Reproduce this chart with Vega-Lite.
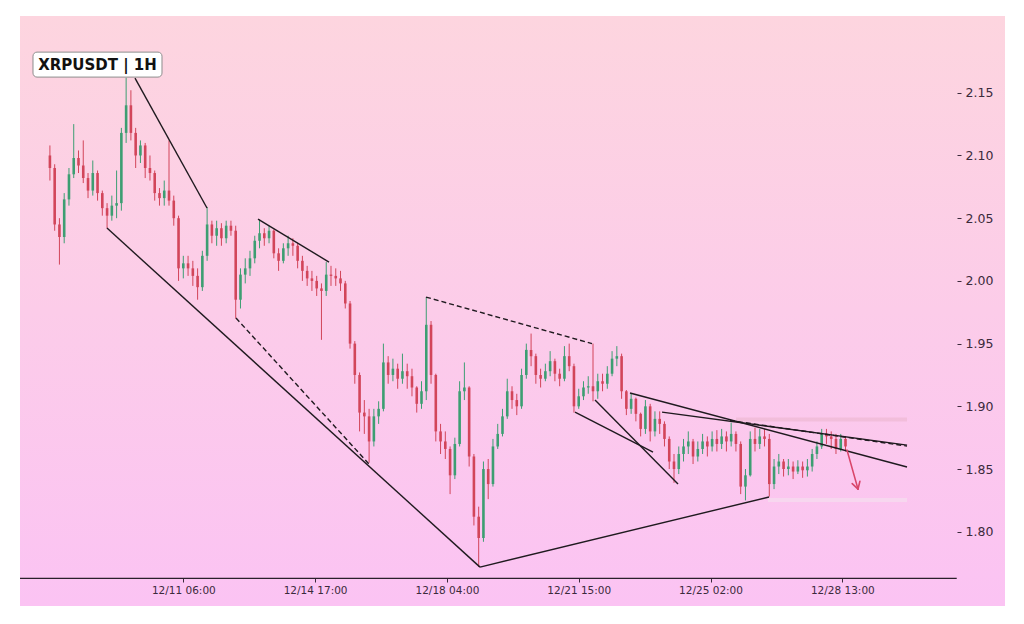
{
"$schema":"https://vega.github.io/schema/vega-lite/v6.json",
"width":985,"height":590,
"autosize":{"type":"none"},
"padding":{"left":20,"top":16,"right":19,"bottom":18},
"background":"white",
"config":{
"view":{"stroke":null,"fill":{"gradient":"linear","x1":0,"y1":0,"x2":0,"y2":1,"stops":[{"offset":0,"color":"#fdd5df"},{"offset":1,"color":"#fbc3f3"}]}},
"axis":{"labelFont":"DejaVu Sans","labelColor":"#3b2a3b","tickColor":"#3b2a3b","grid":false,"domain":false,"title":null},
"scale":{"continuousPadding":0}
},
"datasets":{
"candles":[
{"t":"2025-12-07T18:00","o":2.100,"h":2.108,"l":2.080,"c":2.090},
{"t":"2025-12-07T21:00","o":2.090,"h":2.093,"l":2.040,"c":2.045},
{"t":"2025-12-08T00:00","o":2.045,"h":2.050,"l":2.013,"c":2.035},
{"t":"2025-12-08T03:00","o":2.035,"h":2.070,"l":2.030,"c":2.065},
{"t":"2025-12-08T06:00","o":2.065,"h":2.090,"l":2.060,"c":2.085},
{"t":"2025-12-08T09:00","o":2.085,"h":2.125,"l":2.082,"c":2.098},
{"t":"2025-12-08T12:00","o":2.098,"h":2.104,"l":2.086,"c":2.092},
{"t":"2025-12-08T15:00","o":2.092,"h":2.112,"l":2.078,"c":2.082},
{"t":"2025-12-08T18:00","o":2.082,"h":2.086,"l":2.066,"c":2.072},
{"t":"2025-12-08T21:00","o":2.072,"h":2.096,"l":2.068,"c":2.086},
{"t":"2025-12-09T00:00","o":2.086,"h":2.088,"l":2.064,"c":2.070},
{"t":"2025-12-09T03:00","o":2.070,"h":2.072,"l":2.052,"c":2.058},
{"t":"2025-12-09T06:00","o":2.058,"h":2.062,"l":2.042,"c":2.052},
{"t":"2025-12-09T09:00","o":2.052,"h":2.068,"l":2.048,"c":2.060},
{"t":"2025-12-09T12:00","o":2.060,"h":2.088,"l":2.050,"c":2.062},
{"t":"2025-12-09T15:00","o":2.062,"h":2.122,"l":2.056,"c":2.118},
{"t":"2025-12-09T18:00","o":2.118,"h":2.162,"l":2.110,"c":2.140},
{"t":"2025-12-09T21:00","o":2.140,"h":2.152,"l":2.112,"c":2.118},
{"t":"2025-12-10T00:00","o":2.118,"h":2.122,"l":2.090,"c":2.100},
{"t":"2025-12-10T03:00","o":2.100,"h":2.112,"l":2.094,"c":2.108},
{"t":"2025-12-10T06:00","o":2.108,"h":2.110,"l":2.082,"c":2.090},
{"t":"2025-12-10T09:00","o":2.090,"h":2.100,"l":2.080,"c":2.086},
{"t":"2025-12-10T12:00","o":2.086,"h":2.088,"l":2.064,"c":2.070},
{"t":"2025-12-10T15:00","o":2.070,"h":2.074,"l":2.060,"c":2.066},
{"t":"2025-12-10T18:00","o":2.066,"h":2.080,"l":2.060,"c":2.072},
{"t":"2025-12-10T21:00","o":2.072,"h":2.112,"l":2.060,"c":2.064},
{"t":"2025-12-11T00:00","o":2.064,"h":2.068,"l":2.044,"c":2.050},
{"t":"2025-12-11T03:00","o":2.050,"h":2.052,"l":2.000,"c":2.010},
{"t":"2025-12-11T06:00","o":2.010,"h":2.020,"l":2.002,"c":2.014},
{"t":"2025-12-11T09:00","o":2.014,"h":2.020,"l":2.004,"c":2.010},
{"t":"2025-12-11T12:00","o":2.010,"h":2.016,"l":1.996,"c":2.004},
{"t":"2025-12-11T15:00","o":2.004,"h":2.010,"l":1.985,"c":1.995},
{"t":"2025-12-11T18:00","o":1.995,"h":2.024,"l":1.992,"c":2.020},
{"t":"2025-12-11T21:00","o":2.020,"h":2.059,"l":2.016,"c":2.045},
{"t":"2025-12-12T00:00","o":2.045,"h":2.048,"l":2.030,"c":2.036},
{"t":"2025-12-12T03:00","o":2.036,"h":2.048,"l":2.028,"c":2.042},
{"t":"2025-12-12T06:00","o":2.042,"h":2.046,"l":2.028,"c":2.034},
{"t":"2025-12-12T09:00","o":2.034,"h":2.048,"l":2.030,"c":2.044},
{"t":"2025-12-12T12:00","o":2.044,"h":2.048,"l":2.036,"c":2.040},
{"t":"2025-12-12T15:00","o":2.040,"h":2.044,"l":1.970,"c":1.985},
{"t":"2025-12-12T18:00","o":1.985,"h":2.010,"l":1.978,"c":2.005},
{"t":"2025-12-12T21:00","o":2.005,"h":2.018,"l":1.998,"c":2.010},
{"t":"2025-12-13T00:00","o":2.010,"h":2.024,"l":2.004,"c":2.018},
{"t":"2025-12-13T03:00","o":2.018,"h":2.036,"l":2.014,"c":2.032},
{"t":"2025-12-13T06:00","o":2.032,"h":2.049,"l":2.026,"c":2.038},
{"t":"2025-12-13T09:00","o":2.038,"h":2.042,"l":2.028,"c":2.034},
{"t":"2025-12-13T12:00","o":2.034,"h":2.044,"l":2.030,"c":2.040},
{"t":"2025-12-13T15:00","o":2.040,"h":2.041,"l":2.018,"c":2.022},
{"t":"2025-12-13T18:00","o":2.022,"h":2.026,"l":2.008,"c":2.016},
{"t":"2025-12-13T21:00","o":2.016,"h":2.030,"l":2.014,"c":2.026},
{"t":"2025-12-14T00:00","o":2.026,"h":2.036,"l":2.020,"c":2.030},
{"t":"2025-12-14T03:00","o":2.030,"h":2.034,"l":2.020,"c":2.028},
{"t":"2025-12-14T06:00","o":2.028,"h":2.030,"l":2.010,"c":2.016},
{"t":"2025-12-14T09:00","o":2.016,"h":2.020,"l":2.000,"c":2.008},
{"t":"2025-12-14T12:00","o":2.008,"h":2.012,"l":1.996,"c":2.002},
{"t":"2025-12-14T15:00","o":2.002,"h":2.008,"l":1.992,"c":2.000},
{"t":"2025-12-14T18:00","o":2.000,"h":2.004,"l":1.988,"c":1.994},
{"t":"2025-12-14T21:00","o":1.994,"h":1.998,"l":1.953,"c":1.992},
{"t":"2025-12-15T00:00","o":1.992,"h":2.015,"l":1.988,"c":2.005},
{"t":"2025-12-15T03:00","o":2.005,"h":2.012,"l":1.996,"c":2.004},
{"t":"2025-12-15T06:00","o":2.004,"h":2.010,"l":1.996,"c":2.002},
{"t":"2025-12-15T09:00","o":2.002,"h":2.008,"l":1.992,"c":1.998},
{"t":"2025-12-15T12:00","o":1.998,"h":2.000,"l":1.978,"c":1.982},
{"t":"2025-12-15T15:00","o":1.982,"h":1.984,"l":1.946,"c":1.950},
{"t":"2025-12-15T18:00","o":1.950,"h":1.952,"l":1.918,"c":1.925},
{"t":"2025-12-15T21:00","o":1.925,"h":1.927,"l":1.880,"c":1.895},
{"t":"2025-12-16T00:00","o":1.895,"h":1.905,"l":1.878,"c":1.892},
{"t":"2025-12-16T03:00","o":1.892,"h":1.898,"l":1.855,"c":1.872},
{"t":"2025-12-16T06:00","o":1.872,"h":1.898,"l":1.868,"c":1.892},
{"t":"2025-12-16T09:00","o":1.892,"h":1.904,"l":1.886,"c":1.898},
{"t":"2025-12-16T12:00","o":1.898,"h":1.950,"l":1.896,"c":1.935},
{"t":"2025-12-16T15:00","o":1.935,"h":1.940,"l":1.918,"c":1.925},
{"t":"2025-12-16T18:00","o":1.925,"h":1.938,"l":1.920,"c":1.930},
{"t":"2025-12-16T21:00","o":1.930,"h":1.934,"l":1.914,"c":1.922},
{"t":"2025-12-17T00:00","o":1.922,"h":1.942,"l":1.918,"c":1.928},
{"t":"2025-12-17T03:00","o":1.928,"h":1.934,"l":1.914,"c":1.924},
{"t":"2025-12-17T06:00","o":1.924,"h":1.930,"l":1.908,"c":1.915},
{"t":"2025-12-17T09:00","o":1.915,"h":1.916,"l":1.895,"c":1.902},
{"t":"2025-12-17T12:00","o":1.902,"h":1.920,"l":1.898,"c":1.912},
{"t":"2025-12-17T15:00","o":1.912,"h":1.987,"l":1.905,"c":1.965},
{"t":"2025-12-17T18:00","o":1.965,"h":1.968,"l":1.918,"c":1.925},
{"t":"2025-12-17T21:00","o":1.925,"h":1.926,"l":1.872,"c":1.880},
{"t":"2025-12-18T00:00","o":1.880,"h":1.886,"l":1.862,"c":1.872},
{"t":"2025-12-18T03:00","o":1.872,"h":1.880,"l":1.858,"c":1.866},
{"t":"2025-12-18T06:00","o":1.866,"h":1.868,"l":1.830,"c":1.845},
{"t":"2025-12-18T09:00","o":1.845,"h":1.875,"l":1.842,"c":1.870},
{"t":"2025-12-18T12:00","o":1.870,"h":1.920,"l":1.868,"c":1.912},
{"t":"2025-12-18T15:00","o":1.912,"h":1.935,"l":1.905,"c":1.915},
{"t":"2025-12-18T18:00","o":1.915,"h":1.916,"l":1.852,"c":1.860},
{"t":"2025-12-18T21:00","o":1.860,"h":1.862,"l":1.805,"c":1.812},
{"t":"2025-12-19T00:00","o":1.812,"h":1.820,"l":1.772,"c":1.795},
{"t":"2025-12-19T03:00","o":1.795,"h":1.856,"l":1.792,"c":1.850},
{"t":"2025-12-19T06:00","o":1.850,"h":1.858,"l":1.826,"c":1.838},
{"t":"2025-12-19T09:00","o":1.838,"h":1.874,"l":1.836,"c":1.868},
{"t":"2025-12-19T12:00","o":1.868,"h":1.886,"l":1.866,"c":1.878},
{"t":"2025-12-19T15:00","o":1.878,"h":1.898,"l":1.876,"c":1.892},
{"t":"2025-12-19T18:00","o":1.892,"h":1.922,"l":1.890,"c":1.912},
{"t":"2025-12-19T21:00","o":1.912,"h":1.916,"l":1.898,"c":1.905},
{"t":"2025-12-20T00:00","o":1.905,"h":1.910,"l":1.893,"c":1.900},
{"t":"2025-12-20T03:00","o":1.900,"h":1.930,"l":1.898,"c":1.925},
{"t":"2025-12-20T06:00","o":1.925,"h":1.950,"l":1.922,"c":1.945},
{"t":"2025-12-20T09:00","o":1.945,"h":1.958,"l":1.932,"c":1.940},
{"t":"2025-12-20T12:00","o":1.940,"h":1.942,"l":1.918,"c":1.925},
{"t":"2025-12-20T15:00","o":1.925,"h":1.930,"l":1.915,"c":1.922},
{"t":"2025-12-20T18:00","o":1.922,"h":1.934,"l":1.920,"c":1.928},
{"t":"2025-12-20T21:00","o":1.928,"h":1.944,"l":1.924,"c":1.936},
{"t":"2025-12-21T00:00","o":1.936,"h":1.938,"l":1.920,"c":1.926},
{"t":"2025-12-21T03:00","o":1.926,"h":1.930,"l":1.916,"c":1.922},
{"t":"2025-12-21T06:00","o":1.922,"h":1.948,"l":1.920,"c":1.940},
{"t":"2025-12-21T09:00","o":1.940,"h":1.950,"l":1.928,"c":1.932},
{"t":"2025-12-21T12:00","o":1.932,"h":1.934,"l":1.895,"c":1.900},
{"t":"2025-12-21T15:00","o":1.900,"h":1.914,"l":1.898,"c":1.908},
{"t":"2025-12-21T18:00","o":1.908,"h":1.920,"l":1.905,"c":1.915},
{"t":"2025-12-21T21:00","o":1.915,"h":1.924,"l":1.910,"c":1.916},
{"t":"2025-12-22T00:00","o":1.916,"h":1.950,"l":1.904,"c":1.912},
{"t":"2025-12-22T03:00","o":1.912,"h":1.926,"l":1.906,"c":1.920},
{"t":"2025-12-22T06:00","o":1.920,"h":1.926,"l":1.912,"c":1.918},
{"t":"2025-12-22T09:00","o":1.918,"h":1.932,"l":1.914,"c":1.926},
{"t":"2025-12-22T12:00","o":1.926,"h":1.944,"l":1.924,"c":1.938},
{"t":"2025-12-22T15:00","o":1.938,"h":1.948,"l":1.932,"c":1.940},
{"t":"2025-12-22T18:00","o":1.940,"h":1.942,"l":1.906,"c":1.912},
{"t":"2025-12-22T21:00","o":1.912,"h":1.913,"l":1.893,"c":1.898},
{"t":"2025-12-23T00:00","o":1.898,"h":1.910,"l":1.894,"c":1.906},
{"t":"2025-12-23T03:00","o":1.906,"h":1.907,"l":1.888,"c":1.894},
{"t":"2025-12-23T06:00","o":1.894,"h":1.895,"l":1.876,"c":1.882},
{"t":"2025-12-23T09:00","o":1.882,"h":1.905,"l":1.878,"c":1.900},
{"t":"2025-12-23T12:00","o":1.900,"h":1.902,"l":1.872,"c":1.880},
{"t":"2025-12-23T15:00","o":1.880,"h":1.896,"l":1.876,"c":1.890},
{"t":"2025-12-23T18:00","o":1.890,"h":1.896,"l":1.878,"c":1.886},
{"t":"2025-12-23T21:00","o":1.886,"h":1.888,"l":1.868,"c":1.874},
{"t":"2025-12-24T00:00","o":1.874,"h":1.876,"l":1.850,"c":1.856},
{"t":"2025-12-24T03:00","o":1.856,"h":1.862,"l":1.839,"c":1.850},
{"t":"2025-12-24T06:00","o":1.850,"h":1.868,"l":1.846,"c":1.862},
{"t":"2025-12-24T09:00","o":1.862,"h":1.874,"l":1.856,"c":1.868},
{"t":"2025-12-24T12:00","o":1.868,"h":1.880,"l":1.862,"c":1.872},
{"t":"2025-12-24T15:00","o":1.872,"h":1.874,"l":1.854,"c":1.860},
{"t":"2025-12-24T18:00","o":1.860,"h":1.872,"l":1.856,"c":1.866},
{"t":"2025-12-24T21:00","o":1.866,"h":1.878,"l":1.862,"c":1.872},
{"t":"2025-12-25T00:00","o":1.872,"h":1.876,"l":1.860,"c":1.868},
{"t":"2025-12-25T03:00","o":1.868,"h":1.880,"l":1.864,"c":1.874},
{"t":"2025-12-25T06:00","o":1.874,"h":1.881,"l":1.864,"c":1.870},
{"t":"2025-12-25T09:00","o":1.870,"h":1.882,"l":1.866,"c":1.876},
{"t":"2025-12-25T12:00","o":1.876,"h":1.880,"l":1.864,"c":1.872},
{"t":"2025-12-25T15:00","o":1.872,"h":1.887,"l":1.868,"c":1.878},
{"t":"2025-12-25T18:00","o":1.878,"h":1.880,"l":1.864,"c":1.870},
{"t":"2025-12-25T21:00","o":1.870,"h":1.872,"l":1.830,"c":1.836},
{"t":"2025-12-26T00:00","o":1.836,"h":1.850,"l":1.825,"c":1.845},
{"t":"2025-12-26T03:00","o":1.845,"h":1.880,"l":1.844,"c":1.874},
{"t":"2025-12-26T06:00","o":1.874,"h":1.883,"l":1.864,"c":1.870},
{"t":"2025-12-26T09:00","o":1.870,"h":1.882,"l":1.866,"c":1.876},
{"t":"2025-12-26T12:00","o":1.876,"h":1.882,"l":1.868,"c":1.874},
{"t":"2025-12-26T15:00","o":1.874,"h":1.878,"l":1.828,"c":1.838},
{"t":"2025-12-26T18:00","o":1.838,"h":1.858,"l":1.834,"c":1.852},
{"t":"2025-12-26T21:00","o":1.852,"h":1.862,"l":1.846,"c":1.856},
{"t":"2025-12-27T00:00","o":1.856,"h":1.858,"l":1.844,"c":1.850},
{"t":"2025-12-27T03:00","o":1.850,"h":1.858,"l":1.845,"c":1.852},
{"t":"2025-12-27T06:00","o":1.852,"h":1.856,"l":1.842,"c":1.848},
{"t":"2025-12-27T09:00","o":1.848,"h":1.857,"l":1.846,"c":1.852},
{"t":"2025-12-27T12:00","o":1.852,"h":1.856,"l":1.843,"c":1.849},
{"t":"2025-12-27T15:00","o":1.849,"h":1.858,"l":1.844,"c":1.852},
{"t":"2025-12-27T18:00","o":1.852,"h":1.866,"l":1.848,"c":1.862},
{"t":"2025-12-27T21:00","o":1.862,"h":1.872,"l":1.858,"c":1.868},
{"t":"2025-12-28T00:00","o":1.868,"h":1.882,"l":1.866,"c":1.878},
{"t":"2025-12-28T03:00","o":1.878,"h":1.882,"l":1.870,"c":1.876},
{"t":"2025-12-28T06:00","o":1.876,"h":1.880,"l":1.866,"c":1.874},
{"t":"2025-12-28T09:00","o":1.874,"h":1.878,"l":1.862,"c":1.866},
{"t":"2025-12-28T12:00","o":1.866,"h":1.878,"l":1.864,"c":1.874},
{"t":"2025-12-28T15:00","o":1.874,"h":1.876,"l":1.864,"c":1.868}
],
"trend":[
{"t1":"2025-12-09T23:35","p1":2.1617,"t2":"2025-12-11T20:55","p2":2.0581},
{"t1":"2025-12-09T05:57","p1":2.0421,"t2":"2025-12-19T00:50","p2":1.7718},
{"t1":"2025-12-13T05:02","p1":2.0493,"t2":"2025-12-15T01:45","p2":2.0150},
{"t1":"2025-12-19T00:50","p1":1.7718,"t2":"2025-12-26T14:50","p2":1.8277},
{"t1":"2025-12-21T12:40","p1":1.8954,"t2":"2025-12-23T13:47","p2":1.8635},
{"t1":"2025-12-22T01:16","p1":1.9050,"t2":"2025-12-24T05:31","p2":1.8380},
{"t1":"2025-12-22T23:18","p1":1.9106,"t2":"2025-12-30T05:44","p2":1.8516},
{"t1":"2025-12-23T19:27","p1":1.8954,"t2":"2025-12-30T05:44","p2":1.8691}
],
"projection":[
{"t1":"2025-12-12T15:11","p1":1.9704,"t2":"2025-12-16T02:56","p2":1.8540},
{"t1":"2025-12-17T14:50","p1":1.9871,"t2":"2025-12-21T23:22","p2":1.9500},
{"t1":"2025-12-25T14:16","p1":1.8887,"t2":"2025-12-30T05:44","p2":1.8683}
],
"levels":[
{"level":"resistance","t1":"2025-12-25T18:03","t2":"2025-12-30T05:44","p":1.8895},
{"level":"support","t1":"2025-12-26T14:12","t2":"2025-12-30T05:44","p":1.8253}
],
"arrow":[
{"t1":"2025-12-28T15:57","p1":1.8651,"t2":"2025-12-28T22:52","p2":1.8340},
{"t1":"2025-12-28T22:52","p1":1.8340,"t2":"2025-12-29T00:04","p2":1.8403},
{"t1":"2025-12-28T22:52","p1":1.8340,"t2":"2025-12-28T19:13","p2":1.8384}
],
"baseline":[
{"t1":"2025-12-06T23:10","t2":"2025-12-31T13:02","p":1.7629}
],
"labelbox":[
{"t1":"2025-12-07T07:21","t2":"2025-12-10T16:35","p1":2.1625,"p2":2.1824}
],
"label":[
{"t":"2025-12-08T23:58","p":2.1725,"label":"XRPUSDT | 1H"}
]
},
"layer":[
{"data":{"name":"levels","format":{"parse":{"t1":"date","t2":"date"}}},
"mark":{"type":"rule","strokeWidth":4,"opacity":0.75},
"encoding":{
"x":{"field":"t1","type":"temporal","scale":{"domain":[{"year":2025,"month":12,"date":6,"hours":23,"minutes":10},{"year":2026,"month":1,"date":1,"hours":19,"minutes":26}],"nice":false,"padding":0},
"axis":{"orient":"bottom","offset":-28,"format":"%m/%d %H:%M","labelFontSize":10.5,"tickSize":4,"labelPadding":3,"labelFlush":false,"labelOverlap":false,
"values":[{"year":2025,"month":12,"date":11,"hours":6},{"year":2025,"month":12,"date":14,"hours":17},{"year":2025,"month":12,"date":18,"hours":4},{"year":2025,"month":12,"date":21,"hours":15},{"year":2025,"month":12,"date":25,"hours":2},{"year":2025,"month":12,"date":28,"hours":13}]}},
"x2":{"field":"t2"},
"y":{"field":"p","type":"quantitative","scale":{"domain":[1.7408,2.2112],"nice":false,"zero":false},
"axis":{"orient":"right","offset":-48,"format":".2f","labelFontSize":12.5,"tickSize":4,"labelPadding":4,"values":[1.8,1.85,1.9,1.95,2.0,2.05,2.1,2.15]}},
"color":{"field":"level","type":"nominal","scale":{"domain":["resistance","support"],"range":["#efbad4","#f5dcef"]},"legend":null}
}},
{"data":{"name":"candles","format":{"parse":{"t":"date"}}},
"mark":{"type":"rule","strokeWidth":1},
"encoding":{
"x":{"field":"t","type":"temporal"},
"y":{"field":"l","type":"quantitative"},
"y2":{"field":"h"},
"color":{"condition":{"test":"datum.c >= datum.o","value":"#3d9e72"},"value":"#d2455a"}
}},
{"data":{"name":"candles","format":{"parse":{"t":"date"}}},
"mark":{"type":"bar","size":2.6},
"encoding":{
"x":{"field":"t","type":"temporal"},
"y":{"field":"o","type":"quantitative"},
"y2":{"field":"c"},
"color":{"condition":{"test":"datum.c >= datum.o","value":"#3d9e72"},"value":"#d2455a"}
}},
{"data":{"name":"trend","format":{"parse":{"t1":"date","t2":"date"}}},
"mark":{"type":"rule","stroke":"#1f1a1f","strokeWidth":1.4},
"encoding":{
"x":{"field":"t1","type":"temporal"},
"x2":{"field":"t2"},
"y":{"field":"p1","type":"quantitative"},
"y2":{"field":"p2"}
}},
{"data":{"name":"projection","format":{"parse":{"t1":"date","t2":"date"}}},
"mark":{"type":"rule","stroke":"#1f1a1f","strokeWidth":1.4,"strokeDash":[5,3]},
"encoding":{
"x":{"field":"t1","type":"temporal"},
"x2":{"field":"t2"},
"y":{"field":"p1","type":"quantitative"},
"y2":{"field":"p2"}
}},
{"data":{"name":"arrow","format":{"parse":{"t1":"date","t2":"date"}}},
"mark":{"type":"rule","stroke":"#d9456a","strokeWidth":1.6,"strokeCap":"round"},
"encoding":{
"x":{"field":"t1","type":"temporal"},
"x2":{"field":"t2"},
"y":{"field":"p1","type":"quantitative"},
"y2":{"field":"p2"}
}},
{"data":{"name":"baseline","format":{"parse":{"t1":"date","t2":"date"}}},
"mark":{"type":"rule","stroke":"#2a1f2a","strokeWidth":1.2},
"encoding":{
"x":{"field":"t1","type":"temporal"},
"x2":{"field":"t2"},
"y":{"field":"p","type":"quantitative"}
}},
{"data":{"name":"labelbox","format":{"parse":{"t1":"date","t2":"date"}}},
"mark":{"type":"rect","fill":"white","stroke":"#8d8d8d","strokeWidth":1,"cornerRadius":4},
"encoding":{
"x":{"field":"t1","type":"temporal"},
"x2":{"field":"t2"},
"y":{"field":"p1","type":"quantitative"},
"y2":{"field":"p2"}
}},
{"data":{"name":"label","format":{"parse":{"t":"date"}}},
"mark":{"type":"text","font":"DejaVu Sans","fontWeight":"bold","fontSize":15,"color":"#111111","align":"center","baseline":"middle"},
"encoding":{
"x":{"field":"t","type":"temporal"},
"y":{"field":"p","type":"quantitative"},
"text":{"field":"label"}
}}
]
}
